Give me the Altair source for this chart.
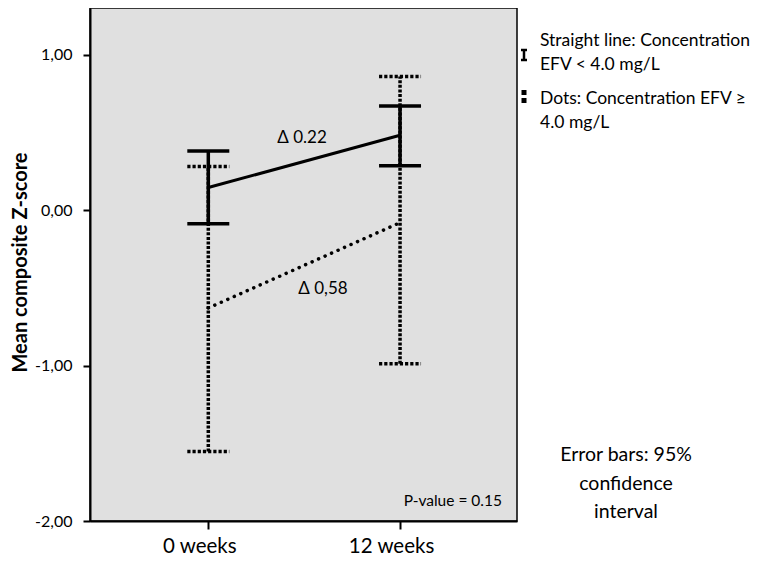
import altair as alt
import pandas as pd

# ---- data ----
time_labels = ["0 weeks", "12 weeks"]
time_pos = [0, 1]

solid_mean = [0.145, 0.481]
solid_low = [-0.088, 0.285]
solid_high = [0.380, 0.670]

dot_mean = [-0.630, -0.081]
dot_low = [-1.553, -0.989]
dot_high = [0.280, 0.860]

y_ticks = [1, 0, -1, -2]
y_tick_labels = ["1,00", "0,00", "-1,00", "-2,00"]

FONT = "Lato"


def frame(means, lows, highs):
    return pd.DataFrame({"t": time_pos, "label": time_labels,
                         "mean": means, "low": lows, "high": highs})


solid = frame(solid_mean, solid_low, solid_high)
dots = frame(dot_mean, dot_low, dot_high)

x_label_expr = "[" + ",".join(f"'{l}'" for l in time_labels) + "][datum.value]"
y_label_expr = ""
for v, l in zip(y_ticks, y_tick_labels):
    y_label_expr += f"datum.value == {v} ? '{l}' : "
y_label_expr += "''"

x_scale = alt.Scale(domain=[-0.617, 1.61], nice=False, zero=False)
y_scale = alt.Scale(domain=[-2, 1.30], nice=False, zero=False)

x_axis = alt.Axis(values=time_pos, labelExpr=x_label_expr, tickSize=8,
                  labelPadding=17, labelBaseline="middle", labelFontSize=20.5,
                  labelOffset=-9, title=None)
y_axis = alt.Axis(values=y_ticks, labelExpr=y_label_expr, tickSize=7,
                  labelPadding=11, labelFontSize=16,
                  title="Mean composite Z-score", titleFontSize=20,
                  titleFontWeight="bold", titleX=-70, titleY=254,
                  titleAngle=270, titleAlign="center", titleBaseline="middle")


def X():
    return alt.X("t:Q", scale=x_scale, axis=x_axis)


def Y(field):
    return alt.Y(f"{field}:Q", scale=y_scale, axis=y_axis)


def group_layers(df, dotted):
    if dotted:
        vdash, cdash = [3, 1.6], [3.2, 2]
        line = alt.Chart(df).mark_line(color="black", strokeWidth=3.5,
                                       strokeDash=[0.1, 7], strokeCap="round")
    else:
        vdash, cdash = None, None
        line = alt.Chart(df).mark_line(color="black", strokeWidth=3)
    vkw = dict(color="black", strokeWidth=3.5)
    ckw = dict(color="black", strokeWidth=3.5, xOffset=-21, x2Offset=21)
    if vdash:
        vkw["strokeDash"] = vdash
        ckw["strokeDash"] = cdash
    vert = alt.Chart(df).mark_rule(**vkw).encode(x=X(), y=Y("low"), y2="high")
    cap_hi = alt.Chart(df).mark_rule(**ckw).encode(x=X(), x2="t", y=Y("high"))
    cap_lo = alt.Chart(df).mark_rule(**ckw).encode(x=X(), x2="t", y=Y("low"))
    line = line.encode(x=X(), y=Y("mean"))
    return [vert, cap_hi, cap_lo, line]


one = pd.DataFrame({"a": [0]})


def text(lines, x, y, size, align="left", baseline="middle", lh=24):
    return alt.Chart(one).mark_text(
        text=lines, font=FONT, fontSize=size, align=align, baseline=baseline,
        lineHeight=lh, color="black").encode(x=alt.value(x), y=alt.value(y))


annotations = [
    text("Δ 0.22", 212, 130, 17, align="center"),
    text("Δ 0,58", 233, 281, 17, align="center"),
    text("P-value = 0.15", 412, 493, 15.5, align="right"),
    text(["Straight line: Concentration", "EFV < 4.0 mg/L"], 450, 33, 17.5, lh=24),
    text(["Dots: Concentration EFV ≥", "4.0 mg/L"], 450, 91, 17.5, lh=24),
    text(["Error bars: 95%", "confidence", "interval"], 536, 447, 19.5,
         align="center", lh=28.5),
]

legend_icons = [
    alt.Chart(one).mark_rule(color="black", strokeWidth=2.5).encode(
        x=alt.value(434), y=alt.value(41), y2=alt.value(53)),
    alt.Chart(one).mark_rule(color="black", strokeWidth=2.5).encode(
        x=alt.value(431), x2=alt.value(437), y=alt.value(42)),
    alt.Chart(one).mark_rule(color="black", strokeWidth=2.5).encode(
        x=alt.value(431), x2=alt.value(437), y=alt.value(52)),
    alt.Chart(one).mark_rule(color="black", strokeWidth=5, strokeDash=[5, 3]).encode(
        x=alt.value(434), y=alt.value(82), y2=alt.value(95)),
]

layers = group_layers(dots, True) + group_layers(solid, False) + annotations + legend_icons

chart = alt.layer(*layers).properties(
    width=427, height=513,
    autosize=alt.AutoSizeParams(type="none"),
    padding={"left": 82, "top": 0, "right": 237, "bottom": 34},
).configure_view(
    fill="#e0e0e0", stroke="black", strokeWidth=1.5
).configure_axis(
    domain=True, domainColor="black", domainWidth=2,
    tickColor="black", tickWidth=2, grid=False,
    labelFont=FONT, titleFont=FONT, labelColor="black", titleColor="black",
)

chart.save("out.html", embed_options={"renderer": "svg", "actions": False})
